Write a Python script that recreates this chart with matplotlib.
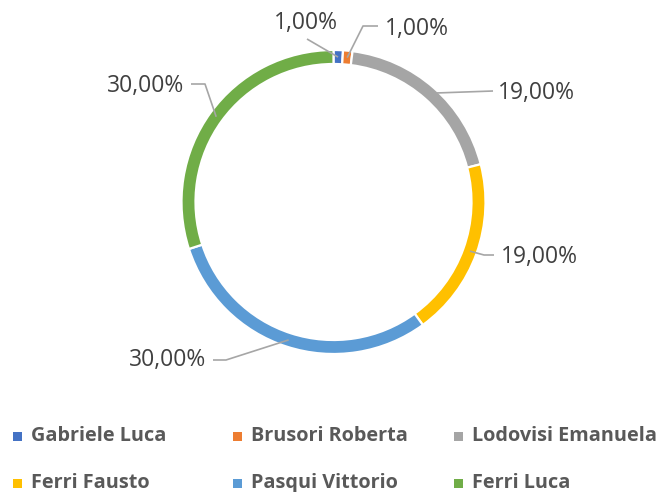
import matplotlib
matplotlib.use("Agg")
import matplotlib.pyplot as plt
from matplotlib.patches import Rectangle
import numpy as np

names = ["Gabriele Luca", "Brusori Roberta", "Lodovisi Emanuela",
         "Ferri Fausto", "Pasqui Vittorio", "Ferri Luca"]
shares = [1.0, 1.0, 19.0, 19.0, 30.0, 30.0]
colors = ["#4472C4", "#ED7D31", "#A5A5A5", "#FFC000", "#5B9BD5", "#70AD47"]

W, H = 666, 492
fig = plt.figure(figsize=(W / 100, H / 100), dpi=100)
ax = fig.add_axes([0, 0, 1, 1])

cx, cy, R = 333.5, H - 202, 152

wedges, _ = ax.pie(shares, colors=colors, startangle=90, counterclock=False,
                   radius=R, center=(cx, cy), frame=True,
                   wedgeprops=dict(width=14, edgecolor="white", linewidth=1.6))
ax.set_xlim(0, W)
ax.set_ylim(0, H)
ax.set_aspect("auto")
ax.axis("off")

def Y(y):
    return H - y

# label text position (image px), alignment, leader points before the ring anchor
labels = [
    ((306, 23), "center", [(307, 39)]),
    ((385, 29), "left", [(378, 26), (363, 26)]),
    ((498, 93), "left", [(493, 91)]),
    ((501, 257), "left", [(494, 255), (484, 255)]),
    ((206, 360), "right", [(213, 360), (226, 360)]),
    ((184, 86), "right", [(191, 84), (205, 84)]),
]

for w, s, (tpos, ha, pts) in zip(wedges, shares, labels):
    mid = np.deg2rad((w.theta1 + w.theta2) / 2)
    ax_x = cx + 145 * np.cos(mid)
    ax_y = cy + 145 * np.sin(mid)
    xs = [p[0] for p in pts] + [ax_x]
    ys = [Y(p[1]) for p in pts] + [ax_y]
    ax.plot(xs, ys, color="#A6A6A6", lw=1.2, solid_capstyle="butt")
    txt = f"{s:.2f}%".replace(".", ",")
    ax.text(tpos[0], Y(tpos[1]), txt, ha=ha, va="center", fontsize=16.5,
            color="#404040", family="Open Sans")

# legend, row-wise 3 columns
col_x = [13, 233, 454]
row_y = [436, 483]
for i, (n, c) in enumerate(zip(names, colors)):
    x = col_x[i % 3]
    y = row_y[i // 3]
    ax.add_patch(Rectangle((x, Y(y) - 4.5), 9, 9, color=c, lw=0))
    ax.text(x + 18, Y(y), n, ha="left", va="center", fontsize=14.3,
            fontweight="bold", color="#595959", family="Open Sans")

fig.savefig("out.png", dpi=100)
